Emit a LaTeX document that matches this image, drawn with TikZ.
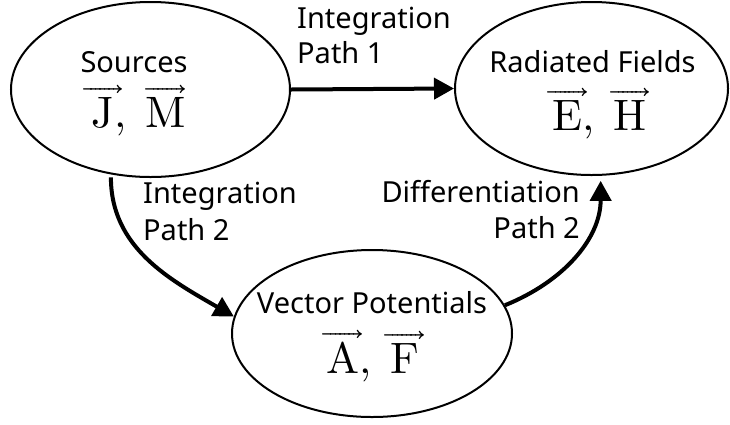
\documentclass[tikz,border=0pt]{standalone}
\usepackage{fontspec}
\usepackage{unicode-math}
\setmainfont{Noto Sans}
\setmathfont{Latin Modern Math}
\usetikzlibrary{arrows.meta,shapes.geometric}
\tikzset{
  ellbox/.style={draw, ellipse, line width=2pt, inner sep=0pt},
  lbl/.style={inner sep=0pt, font=\fontsize{29}{35}\selectfont},
  mlbl/.style={inner sep=0pt, font=\fontsize{44}{50}\selectfont},
  arr/.style={line width=4pt, -{Triangle[length=20pt,width=21pt]}},
}
\newcommand{\vecarr}[1]{\mathord{\ooalign{$\symup{#1}$\cr\hidewidth$\overrightarrow{\vphantom{\symup{#1}}\kern0.9em}$\hidewidth\cr}}}
\begin{document}
\begin{tikzpicture}[x=1pt,y=-1pt]
\useasboundingbox (0,0) rectangle (730,424);
\node[ellbox, minimum width=279pt, minimum height=175pt] (S) at (150.5,89.5) {};
\node[ellbox, minimum width=273pt, minimum height=173pt] (R) at (591.5,88.5) {};
\node[ellbox, minimum width=280pt, minimum height=167pt] (V) at (372,333.5) {};

\node[lbl, anchor=base] (s1) at (134,72) {Sources};
\node[mlbl, anchor=base] (s2) at (138.5,127) {$\vecarr{J},\ \vecarr{M}$};
\node[lbl, anchor=base] (r1) at (592.5,72) {Radiated Fields};
\node[mlbl, anchor=base] (r2) at (599.5,130) {$\vecarr{E},\ \vecarr{H}$};
\node[lbl, anchor=base] (v1) at (372,313) {Vector Potentials};
\node[mlbl, anchor=base] (v2) at (372.5,373) {$\vecarr{A},\ \vecarr{F}$};

\node[lbl, anchor=base west] (a1) at (297,28) {Integration};
\node[lbl, anchor=base west] (a2) at (297,63) {Path 1};
\node[lbl, anchor=base west] (b1) at (143,203) {Integration};
\node[lbl, anchor=base west] (b2) at (143,240) {Path 2};
\node[lbl, anchor=base east] (c1) at (580,202) {Differentiation};
\node[lbl, anchor=base east] (c2) at (580,238) {Path 2};

\draw[arr] (S.east) -- (R.west);
\draw[arr, shorten <=3pt] (S.245) to[out=-90, in=150] (V.173);
\draw[arr, shorten >=5pt] (V.12) to[out=22, in=-90] (R.276);
\end{tikzpicture}
\end{document}
